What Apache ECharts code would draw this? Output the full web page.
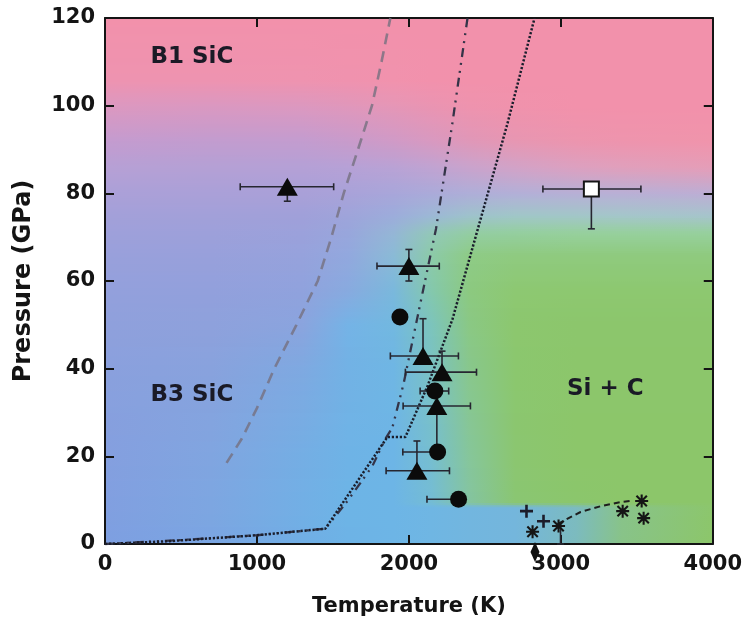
<!DOCTYPE html>
<html><head><meta charset="utf-8">
<script src="https://cdn.jsdelivr.net/npm/echarts@6/dist/echarts.min.js"></script>
<style>html,body{margin:0;padding:0;background:#fff}#c{width:745px;height:630px}</style>
</head><body><div id="c"></div>
<script>
// ---- axes ----
const xRange=[0,4000], xStep=1000;
const yRange=[0,120], yStep=20;

// ---- data points: [T, P, Tlow, Thigh, Plow, Phigh] ----
const triangles=[
 [1200,81.5,890,1505,78.2,null],
 [2000,63.4,1790,2200,60,67.2],
 [2093,42.9,1878,2326,null,51.4],
 [2218,39.2,1977,2445,null,44],
 [2184,31.5,1962,2405,21,null],
 [2053,16.7,1850,2267,null,23.5]
];
const circles=[
 [1941,51.8,null,null,null,null],
 [2171,34.9,2074,2262,null,null],
 [2189,21.0,1960,2200,null,null],
 [2327,10.2,2119,null,null,null]
];
const squares=[[3201,81,2882,3527,71.9,null]];
const pluses=[[2774,7.5],[2886,5.2]];
const asterisks=[[2814,2.8],[2985,4.1],[3407,7.5],[3532,9.8],[3545,5.9]];
const asteriskErr=[[2998,4.6,null,null,0,null]];
const diamonds=[[2830,-1.8]];

// ---- lines ----
const greyDashLine=[[800,18.5],[900,24],[1000,31],[1114,40],[1260,50],[1400,60],[1490,70],[1571,80],[1665,90],[1757,100],[1820,110],[1878,120]];
const dashDotLine=[[0,0],[500,0.9],[1000,2],[1450,3.5],[1600,10],[1760,17.8],[1845,24],[1891,26.5],[1964,36.4],[2076,55],[2179,72],[2285,95.7],[2386,120]];
const dottedLine=[[0,0],[400,0.6],[1000,2],[1450,3.5],[1858,24.4],[1977,24.4],[2122,36],[2287,51.3],[2471,74],[2647,95.7],[2827,120]];
const shortDashLine=[[2980,4.6],[3130,7.3],[3260,8.6],[3400,9.6],[3470,9.9]];

// ---- region labels ----
const regionLabels=[['B1 SiC',572,111],['B3 SiC',572,34],['Si + C',3293,35.4]];

// ---- background colour field (rows of colours at given pressures, stops at given temperatures) ----
const bgT=[0,700,1300,1600,1900,2150,2400,2700,3100,3400,4000];
const bgP=[0,8.5,9.5,20,40,50,58,66,71,75,80,86,92,100,106,120];
const bgRows=[
 ['#7d9fe1','#7aa5e2','#70aee5','#6db3e6','#6db5e6','#6fb6e3','#72b6df','#74b6dc','#7cbbbe','#88c388','#8cc66a'],
 ['#819fe0','#7da6e1','#72afe5','#6db4e6','#6db5e6','#6fb6e3','#72b6df','#74b6dc','#7cbbc0','#88c38a','#8cc66c'],
 ['#819fe0','#7da6e1','#72afe5','#6db4e6','#6db5e6','#74bcd4','#84c4a0','#8ac672','#8bc66c','#8cc66a','#8cc66a'],
 ['#849fdf','#80a5e0','#74aee4','#6eb3e6','#6db5e6','#76bed0','#86c69a','#8bc670','#8cc66a','#8cc66a','#8cc66a'],
 ['#8aa0dd','#88a2dd','#7ea9e1','#72b2e5','#6fb6e4','#7ac2c4','#88c78c','#8bc76e','#8cc66b','#8cc66b','#8cc66b'],
 ['#8fa0dc','#8ea1dc','#8aa4de','#74b3e6','#72b8e0','#7cc4bc','#8ac884','#8cc76e','#8cc66c','#8cc66c','#8cc66c'],
 ['#93a0dc','#92a0dc','#90a2dd','#88aadf','#7ab8dc','#84c8ac','#8cc980','#8dc872','#8dc870','#8dc870','#8dc870'],
 ['#99a0db','#98a0db','#96a2dc','#92a8de','#8abad6','#8ccaa8','#8ecb86','#8fca80','#8fca7e','#8fca7e','#8fca7e'],
 ['#9ea0da','#9da0da','#9ba1db','#98a6dc','#94b6d6','#92c8b8','#93cda2','#94ce9e','#96d09c','#96d09c','#96d09c'],
 ['#a3a0d9','#a2a0d9','#a0a0d9','#9ea4da','#9cacdb','#9cb8d6','#9ec2cc','#a0c6c8','#a2c6c8','#a4c6ca','#a6c4cc'],
 ['#aba0d8','#aaa0d8','#a9a0d8','#a8a2d9','#a8a6da','#aaaad9','#aeaed8','#b2b0d8','#b6b0d6','#b8b0d6','#bcaed4'],
 ['#b6a0d5','#b4a0d5','#b4a0d6','#b6a1d6','#b9a2d5','#c0a3d2','#c9a3cd','#d2a2c7','#dca0c0','#e09fbc','#e59db8'],
 ['#c49bcf','#c29ccf','#c39ccf','#c89bcb','#d09ac6','#d899c0','#e097b8','#e796b2','#ec95ae','#ee94ad','#f094ab'],
 ['#dc98c0','#da98c1','#dc98bf','#e097bb','#e596b6','#ea94b2','#ee93ae','#f092ac','#f291ab','#f291ab','#f291ab'],
 ['#ee93b0','#ee93b0','#ef93af','#f092ae','#f192ad','#f291ac','#f291ab','#f291ab','#f291ab','#f291ab','#f291ab'],
 ['#f291ab','#f291ab','#f291ab','#f291ab','#f291ab','#f291ab','#f291ab','#f291ab','#f291ab','#f291ab','#f291ab']
];

function hex2rgb(h){return [parseInt(h.slice(1,3),16),parseInt(h.slice(3,5),16),parseInt(h.slice(5,7),16)];}
function rowColors(p){
  let i=0; while(i<bgP.length-2 && p>bgP[i+1]) i++;
  const t=Math.max(0,Math.min(1,(p-bgP[i])/(bgP[i+1]-bgP[i])));
  return bgT.map((_,k)=>{const a=hex2rgb(bgRows[i][k]),b=hex2rgb(bgRows[i+1][k]);
    return 'rgb('+a.map((v,j)=>Math.round(v+(b[j]-v)*t)).join(',')+')';});
}

const FONT='DejaVu Sans';
const INK='#141414';

function bgRender(params,api){
  const children=[]; const step=0.5;
  const span=xRange[1]-xRange[0];
  for(let p=yRange[0];p<yRange[1];p+=step){
    const a=api.coord([xRange[0],p+step]), b=api.coord([xRange[1],p]);
    const cols=rowColors(p+step/2);
    children.push({type:'rect',silent:true,
      shape:{x:a[0],y:a[1]-0.6,width:b[0]-a[0],height:b[1]-a[1]+1.2},
      style:{fill:{type:'linear',x:0,y:0,x2:1,y2:0,
        colorStops:bgT.map((t,k)=>({offset:(t-xRange[0])/span,color:cols[k]}))}}});
  }
  return {type:'group',children};
}

function errRender(src){
  return function(params,api){
    const d=src[params.dataIndex];
    const T=d[0],P=d[1],tl=d[2],th=d[3],pl=d[4],ph=d[5];
    const st={stroke:'#262630',lineWidth:1.6};
    const cap=3.5, ch=[];
    if(tl!=null||th!=null){
      const a=api.coord([tl!=null?tl:T,P]), b=api.coord([th!=null?th:T,P]);
      ch.push({type:'line',shape:{x1:a[0],y1:a[1],x2:b[0],y2:b[1]},style:st});
      if(tl!=null) ch.push({type:'line',shape:{x1:a[0],y1:a[1]-cap,x2:a[0],y2:a[1]+cap},style:st});
      if(th!=null) ch.push({type:'line',shape:{x1:b[0],y1:b[1]-cap,x2:b[0],y2:b[1]+cap},style:st});
    }
    if(pl!=null||ph!=null){
      const a=api.coord([T,pl!=null?pl:P]), b=api.coord([T,ph!=null?ph:P]);
      ch.push({type:'line',shape:{x1:a[0],y1:a[1],x2:b[0],y2:b[1]},style:st});
      if(pl!=null) ch.push({type:'line',shape:{x1:a[0]-cap,y1:a[1],x2:a[0]+cap,y2:a[1]},style:st});
      if(ph!=null) ch.push({type:'line',shape:{x1:b[0]-cap,y1:b[1],x2:b[0]+cap,y2:b[1]},style:st});
    }
    return {type:'group',children:ch};
  };
}

const errData=triangles.concat(circles,squares,asteriskErr);

const PLUS='path://M4,0h2v4h4v2h-4v4h-2v-4h-4v-2h4z';
const AST='path://M4.2,0h1.6v10h-1.6z M0,4.2h10v1.6h-10z M1.57,0.43L9.57,8.43L8.43,9.57L0.43,1.57z M9.57,1.57L1.57,9.57L0.43,8.43L8.43,0.43z';

const axisLine={show:true,onZero:false,lineStyle:{color:INK,width:2}};
const axisTick={show:true,inside:true,length:9,lineStyle:{color:INK,width:2}};
const lbl={fontFamily:FONT,fontWeight:'bold',fontSize:21,color:INK,formatter:v=>String(v)};
const solid={opacity:1};

const chart=echarts.init(document.getElementById('c'),null,{renderer:'canvas'});
chart.setOption({
  animation:false,
  backgroundColor:'#ffffff',
  grid:{left:105,right:32,top:18,bottom:86},
  xAxis:[
    {type:'value',min:xRange[0],max:xRange[1],interval:xStep,position:'bottom',
     axisLine,axisTick,splitLine:{show:false},
     axisLabel:Object.assign({margin:10},lbl),
     name:'Temperature (K)',nameLocation:'middle',nameGap:52,
     nameTextStyle:{fontFamily:FONT,fontWeight:'bold',fontSize:21,color:INK}},
    {type:'value',min:xRange[0],max:xRange[1],interval:xStep,position:'top',
     axisLine,axisTick,splitLine:{show:false},axisLabel:{show:false}}
  ],
  yAxis:[
    {type:'value',min:yRange[0],max:yRange[1],interval:yStep,position:'left',
     axisLine,axisTick,splitLine:{show:false},
     axisLabel:Object.assign({margin:10},lbl),
     name:'Pressure (GPa)',nameLocation:'middle',nameGap:69,nameRotate:90,
     nameTextStyle:{fontFamily:FONT,fontWeight:'bold',fontSize:24,color:INK}},
    {type:'value',min:yRange[0],max:yRange[1],interval:yStep,position:'right',
     axisLine,axisTick,splitLine:{show:false},axisLabel:{show:false}}
  ],
  series:[
    {type:'custom',z:-1,silent:true,data:[[0,0]],encode:{x:0,y:1},renderItem:bgRender,clip:true},
    {type:'line',data:greyDashLine,showSymbol:false,symbol:'none',silent:true,z:2,
     lineStyle:{color:'rgba(118,112,128,0.8)',width:2.6,type:[11,7]}},
    {type:'line',data:dashDotLine,showSymbol:false,symbol:'none',silent:true,z:2,
     lineStyle:{color:'#343448',width:2.3,type:[9,5,2,6,2,6]}},
    {type:'line',data:dottedLine,showSymbol:false,symbol:'none',silent:true,z:2,
     lineStyle:{color:'#1a1e2c',width:2.5,type:[2.2,1.8]}},
    {type:'line',data:shortDashLine,showSymbol:false,symbol:'none',silent:true,z:2,
     lineStyle:{color:'#1e1e1e',width:2,type:[6,4]}},
    {type:'custom',z:3,silent:true,data:errData.map(d=>[d[0],d[1]]),encode:{x:0,y:1},renderItem:errRender(errData)},
    {type:'scatter',z:4,silent:true,data:triangles.map(d=>[d[0],d[1]]),symbol:'triangle',symbolSize:[21,18],itemStyle:Object.assign({color:'#0b0b0b'},solid)},
    {type:'scatter',z:4,silent:true,data:circles.map(d=>[d[0],d[1]]),symbol:'circle',symbolSize:17,itemStyle:Object.assign({color:'#0b0b0b'},solid)},
    {type:'scatter',z:4,silent:true,data:squares.map(d=>[d[0],d[1]]),symbol:'rect',symbolSize:15,itemStyle:Object.assign({color:'#ffffff',borderColor:'#151515',borderWidth:2},solid)},
    {type:'scatter',z:4,silent:true,data:pluses,symbol:PLUS,symbolSize:13,itemStyle:Object.assign({color:'#1c1c2a'},solid)},
    {type:'scatter',z:4,silent:true,data:asterisks,symbol:AST,symbolSize:13,itemStyle:Object.assign({color:'#151515'},solid)},
    {type:'scatter',z:4,silent:true,clip:false,data:diamonds,symbol:'diamond',symbolSize:[9,20],itemStyle:Object.assign({color:'#111'},solid)},
    {type:'custom',z:5,silent:true,data:regionLabels.map(d=>[d[1],d[2]]),encode:{x:0,y:1},
     renderItem:function(params,api){
       const d=regionLabels[params.dataIndex]; const c=api.coord([d[1],d[2]]);
       return {type:'text',x:c[0],y:c[1],style:{text:d[0],fontFamily:FONT,fontWeight:'bold',fontSize:23,fill:'#1a1a26',align:'center',verticalAlign:'middle'}};
     }}
  ]
});
</script>
</body></html>
